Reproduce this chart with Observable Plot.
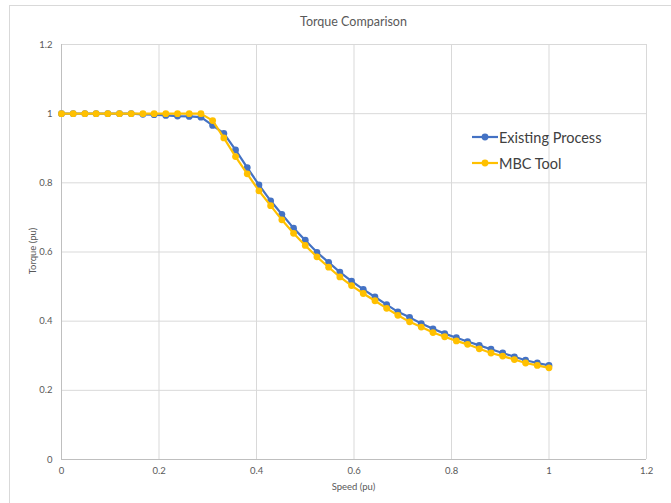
<!DOCTYPE html>
<html>
<head>
<meta charset="utf-8">
<script src="https://cdn.jsdelivr.net/npm/d3@7"></script>
<script src="https://cdn.jsdelivr.net/npm/@observablehq/plot@0.6"></script>
<style>
  body { margin: 0; background: #fff; }
  #wrap { position: relative; width: 671px; height: 503px; overflow: hidden; background: #fff; font-family: Lato, "Open Sans", sans-serif; }
  #border { position: absolute; left: 9px; top: 5px; width: 680px; height: 520px; border: 1px solid #d9d9d9; box-sizing: border-box; }
  #plot { position: absolute; left: 0; top: 0; }
  .txt { position: absolute; color: #595959; white-space: nowrap; }
  #title { left: 0; width: 707px; top: 14px; text-align: center; font-size: 12.5px; }
  #xlabel { left: 0; width: 707px; top: 481px; text-align: center; font-size: 9.5px; }
  #ylabel { left: 32px; top: 251px; font-size: 9.5px; transform: translate(-50%, -50%) rotate(-90deg); }
  .leg { position: absolute; left: 472px; display: flex; align-items: center; font-size: 14.5px; color: #404040; }
  .leg svg { margin-right: 1px; }
</style>
</head>
<body>
<div id="wrap">
  <div id="border"></div>
  <div id="plot"></div>
  <div class="txt" id="title">Torque Comparison</div>
  <div class="txt" id="xlabel">Speed (pu)</div>
  <div class="txt" id="ylabel">Torque (pu)</div>
  <div id="legend"></div>
</div>
<script>
// ---- data ----
const speed = [0, 0.024, 0.048, 0.071, 0.095, 0.119, 0.143, 0.167, 0.190, 0.214, 0.238, 0.262, 0.286,
  0.310, 0.333, 0.357, 0.381, 0.405, 0.429, 0.452, 0.476, 0.500, 0.524, 0.548, 0.571, 0.595, 0.619,
  0.643, 0.667, 0.690, 0.714, 0.738, 0.762, 0.786, 0.810, 0.833, 0.857, 0.881, 0.905, 0.929, 0.952,
  0.976, 1.0];
const existingProcess = [1.0, 1.0, 1.0, 1.0, 1.0, 1.0, 1.0, 0.998, 0.997, 0.995, 0.993, 0.992, 0.990,
  0.966, 0.943, 0.895, 0.844, 0.794, 0.748, 0.709, 0.669, 0.634, 0.599, 0.570, 0.542, 0.516, 0.492,
  0.470, 0.448, 0.427, 0.411, 0.393, 0.378, 0.364, 0.352, 0.341, 0.330, 0.319, 0.308, 0.297, 0.287,
  0.279, 0.272];
const mbcTool = [1.0, 1.0, 1.0, 1.0, 1.0, 1.0, 1.0, 1.0, 1.0, 1.0, 1.0, 1.0, 1.0,
  0.980, 0.930, 0.876, 0.826, 0.777, 0.734, 0.693, 0.654, 0.619, 0.586, 0.556, 0.528, 0.503, 0.480,
  0.459, 0.437, 0.417, 0.398, 0.383, 0.367, 0.355, 0.343, 0.333, 0.320, 0.308, 0.299, 0.289, 0.279,
  0.272, 0.265];
const seriesNames = ["Existing Process", "MBC Tool"];
const seriesColors = ["#4472C4", "#FFC000"];
const xTicks = [0, 0.2, 0.4, 0.6, 0.8, 1, 1.2];
const yTicks = [0, 0.2, 0.4, 0.6, 0.8, 1, 1.2];

const rowsA = speed.map((s, i) => ({x: s, y: existingProcess[i]}));
const rowsB = speed.map((s, i) => ({x: s, y: mbcTool[i]}));
const fmt = d3.format("~g");

const chart = Plot.plot({
  width: 671,
  height: 503,
  marginLeft: 61,
  marginRight: 25,
  marginTop: 44,
  marginBottom: 44,
  style: {fontFamily: "Lato, 'Open Sans', sans-serif", fontSize: "9.5px", color: "#595959", background: "transparent"},
  x: {domain: [0, 1.2]},
  y: {domain: [0, 1.2]},
  marks: [
    Plot.gridX(xTicks, {stroke: "#d9d9d9", strokeOpacity: 1, strokeWidth: 1}),
    Plot.gridY(yTicks, {stroke: "#d9d9d9", strokeOpacity: 1, strokeWidth: 1}),
    Plot.ruleX([0], {stroke: "#bfbfbf"}),
    Plot.ruleY([0], {stroke: "#bfbfbf"}),
    Plot.axisX(xTicks, {tickSize: 0, tickPadding: 8, tickFormat: fmt, label: null, fill: "#595959"}),
    Plot.axisY(yTicks, {tickSize: 0, tickPadding: 9, tickFormat: fmt, label: null, fill: "#595959"}),
    Plot.line(rowsA, {x: "x", y: "y", stroke: seriesColors[0], strokeWidth: 2.2}),
    Plot.dot(rowsA, {x: "x", y: "y", r: 3.4, fill: seriesColors[0], stroke: "none"}),
    Plot.line(rowsB, {x: "x", y: "y", stroke: seriesColors[1], strokeWidth: 2.2}),
    Plot.dot(rowsB, {x: "x", y: "y", r: 3.4, fill: seriesColors[1], stroke: "none"})
  ]
});
document.getElementById("plot").appendChild(chart);

// legend
const legend = document.getElementById("legend");
seriesNames.forEach((name, i) => {
  const row = document.createElement("div");
  row.className = "leg";
  row.style.top = (127 + i * 26) + "px";
  row.innerHTML = `<svg width="26" height="20"><line x1="0" x2="26" y1="10" y2="10" stroke="${seriesColors[i]}" stroke-width="2.2"/><circle cx="13" cy="10" r="3.4" fill="${seriesColors[i]}"/></svg><span>${name}</span>`;
  legend.appendChild(row);
});
</script>
</body>
</html>
